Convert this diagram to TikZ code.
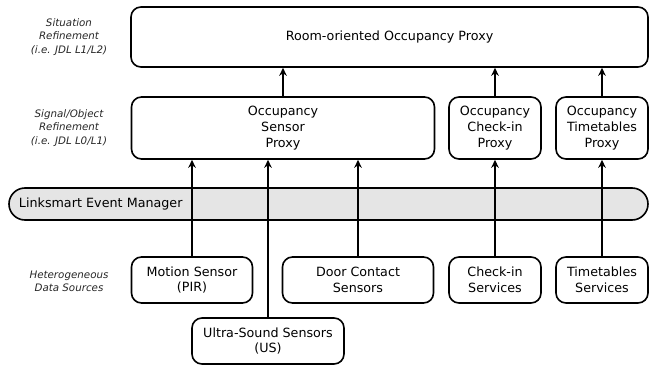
\documentclass[tikz,border=0pt]{standalone}
\usepackage{fontspec}
\setmainfont{DejaVu Sans}
\usetikzlibrary{arrows.meta}
\tikzset{
  box/.style={draw, line width=1.6pt, rounded corners=10pt, align=center, inner sep=0pt,
    font=\fontsize{12.7}{15.8}\selectfont},
  bar/.style={draw, line width=1.6pt, rounded corners=16pt, fill=black!10, inner ysep=0pt, inner xsep=10pt,
    minimum height=32pt, text width=619pt, align=left, font=\fontsize{12.7}{15.8}\selectfont},
  lbl/.style={align=center, font=\fontsize{10.3}{13.3}\selectfont\itshape, text=black!85},
  arr/.style={line width=1.8pt, -{Stealth[length=8pt,width=7.5pt]}}
}
\begin{document}
\begin{tikzpicture}[x=1pt,y=-1pt]
\useasboundingbox (0,0) rectangle (654,367);
\node[box, minimum width=517pt, minimum height=60pt] (room) at (389.5,37) {Room-oriented Occupancy Proxy};
\node[box, minimum width=303pt, minimum height=62pt] (osp) at (283,128) {Occupancy\\Sensor\\Proxy};
\node[box, minimum width=92pt, minimum height=62pt] (ocp) at (495,128) {Occupancy\\Check-in\\Proxy};
\node[box, minimum width=92pt, minimum height=62pt] (otp) at (602,128) {Occupancy\\Timetables\\Proxy};
\node[bar] (lem) at (328.5,204) {Linksmart Event Manager};
\node[box, minimum width=121pt, minimum height=46pt] (pir) at (192,280) {Motion Sensor\\(PIR)};
\node[box, minimum width=151pt, minimum height=46pt] (door) at (358,280) {Door Contact\\Sensors};
\node[box, minimum width=92pt, minimum height=46pt] (cis) at (495,280) {Check-in\\Services};
\node[box, minimum width=92pt, minimum height=46pt] (tts) at (602,280) {Timetables\\Services};
\node[box, minimum width=152pt, minimum height=46pt] (us) at (268,341) {Ultra-Sound Sensors\\(US)};
\node[lbl] (l1) at (69,37) {Situation\\Refinement\\(i.e. JDL L1/L2)};
\node[lbl] (l2) at (69,128) {Signal/Object\\Refinement\\(i.e. JDL L0/L1)};
\node[lbl] (l3) at (69,281) {Heterogeneous\\Data Sources};
\draw[arr] (osp.north) -- (osp.north |- room.south);
\draw[arr] (ocp.north) -- (ocp.north |- room.south);
\draw[arr] (otp.north) -- (otp.north |- room.south);
\draw[arr] (pir.north) -- (pir.north |- osp.south);
\draw[arr] (us.north) -- (us.north |- osp.south);
\draw[arr] (door.north) -- (door.north |- osp.south);
\draw[arr] (cis.north) -- (cis.north |- ocp.south);
\draw[arr] (tts.north) -- (tts.north |- otp.south);
\end{tikzpicture}
\end{document}
